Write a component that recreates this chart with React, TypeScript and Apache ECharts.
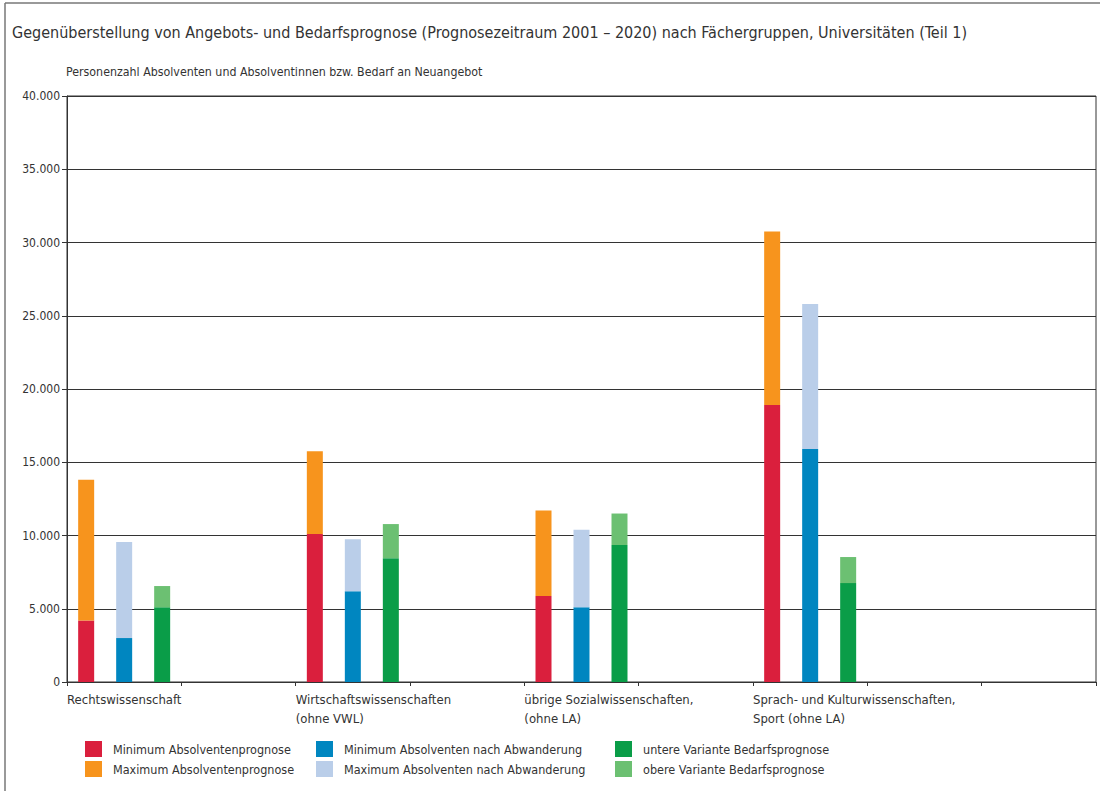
import React, { useEffect, useRef } from "react";
import * as echarts from "echarts";

const FONT = '"Liberation Sans Narrow", "DejaVu Sans Condensed", "Roboto Condensed", "Liberation Sans", sans-serif';

// Category slots on the x axis (9 slots, every second one used)
const slotCount = 9;
const usedSlots = [0, 2, 4, 6];
const groupLabels = [
  "Rechtswissenschaft",
  "Wirtschaftswissenschaften\n(ohne VWL)",
  "übrige Sozialwissenschaften,\n(ohne LA)",
  "Sprach- und Kulturwissenschaften,\nSport (ohne LA)",
];

// Values per group (persons)
const minAbsolventen = [4200, 10100, 5870, 18900];
const maxAbsolventen = [13800, 15750, 11700, 30750];
const minAbwanderung = [3000, 6200, 5100, 15900];
const maxAbwanderung = [9550, 9750, 10400, 25800];
const untereBedarf = [5100, 8450, 9350, 6750];
const obereBedarf = [6550, 10780, 11500, 8530];

const yTicks = [0, 5000, 10000, 15000, 20000, 25000, 30000, 35000, 40000];

const seriesNames = [
  "Minimum Absolventenprognose",
  "Maximum Absolventenprognose",
  "Minimum Absolventen nach Abwanderung",
  "Maximum Absolventen nach Abwanderung",
  "untere Variante Bedarfsprognose",
  "obere Variante Bedarfsprognose",
];
const colors = ["#DA1F3D", "#F7941D", "#0086C0", "#BACEE9", "#0A9D48", "#6CC072"];

function toSlots(vals: number[]): (number | string)[] {
  const out: (number | string)[] = new Array(slotCount).fill("-");
  usedSlots.forEach((s, i) => (out[s] = vals[i]));
  return out;
}
function diff(a: number[], b: number[]) {
  return a.map((v, i) => v - b[i]);
}
function fmt(v: number) {
  if (v === 0) return "0";
  const t = Math.floor(v / 1000);
  const r = v % 1000;
  return t + "." + String(r).padStart(3, "0");
}

export default function App() {
  const ref = useRef<HTMLDivElement>(null);
  useEffect(() => {
    if (!ref.current) return;
    const chart = echarts.init(ref.current, null, { renderer: "svg" });
    const slotNames = Array.from({ length: slotCount }, (_, i) => "s" + i);
    const tickNames = Array.from({ length: slotCount + 1 }, (_, i) => "t" + i);
    const tickLabels = tickNames.map((_, i) => {
      const k = usedSlots.indexOf(i);
      return k >= 0 ? groupLabels[k] : "";
    });
    const stacks = ["a", "a", "b", "b", "c", "c"];
    const dataSets = [
      toSlots(minAbsolventen),
      toSlots(diff(maxAbsolventen, minAbsolventen)),
      toSlots(minAbwanderung),
      toSlots(diff(maxAbwanderung, minAbwanderung)),
      toSlots(untereBedarf),
      toSlots(diff(obereBedarf, untereBedarf)),
    ];
    const legendBase = {
      orient: "vertical",
      top: 741,
      padding: 0,
      itemWidth: 17,
      itemHeight: 16,
      itemGap: 4,
      icon: "rect",
      selectedMode: false,
      textStyle: { fontFamily: FONT, fontSize: 12.5, color: "#333", padding: [0, 0, 0, 6] },
    };
    chart.setOption({
      animation: false,
      backgroundColor: "#fff",
      color: colors,
      title: [
        {
          text: "Gegenüberstellung von Angebots- und Bedarfsprognose (Prognosezeitraum 2001 – 2020) nach Fächergruppen, Universitäten (Teil 1)",
          left: 12,
          top: 24,
          padding: 0,
          textStyle: { fontFamily: FONT, fontSize: 16, fontWeight: "normal", color: "#333" },
        },
        {
          text: "Personenzahl Absolventen und Absolventinnen bzw. Bedarf an Neuangebot",
          left: 66,
          top: 66,
          padding: 0,
          textStyle: { fontFamily: FONT, fontSize: 12.3, fontWeight: "normal", color: "#333" },
        },
      ],
      legend: [
        { ...legendBase, left: 85, data: [seriesNames[0], seriesNames[1]] },
        { ...legendBase, left: 316, data: [seriesNames[2], seriesNames[3]] },
        { ...legendBase, left: 615, data: [seriesNames[4], seriesNames[5]] },
      ],
      grid: {
        left: 67,
        right: 4,
        top: 96,
        bottom: 109,
        show: true,
        borderColor: "#333",
        borderWidth: 1,
      },
      xAxis: [
        {
          type: "category",
          data: slotNames,
          position: "bottom",
          axisLine: { lineStyle: { color: "#333", width: 1 } },
          axisTick: { show: true, length: 4, lineStyle: { color: "#333" } },
          axisLabel: { show: false },
        },
        {
          type: "category",
          data: tickNames,
          boundaryGap: false,
          position: "bottom",
          axisLine: { show: false },
          axisTick: { show: false },
          axisLabel: {
            interval: 0,
            align: "left",
            verticalAlign: "top",
            margin: 8,
            lineHeight: 19,
            fontFamily: FONT,
            fontSize: 13,
            color: "#333",
            formatter: (_: string, idx: number) => tickLabels[idx],
          },
        },
      ],
      yAxis: {
        type: "value",
        min: 0,
        max: 40000,
        interval: 5000,
        axisLine: { show: true, lineStyle: { color: "#333", width: 1 } },
        axisTick: { show: true, length: 5, lineStyle: { color: "#333" } },
        splitLine: { lineStyle: { color: "#333", width: 1.2 } },
        axisLabel: {
          fontFamily: FONT,
          fontSize: 12,
          color: "#333",
          margin: 7,
          formatter: (v: number) => (yTicks.includes(v) ? fmt(v) : ""),
        },
      },
      series: seriesNames.map((name, i) => ({
        name,
        type: "bar",
        stack: stacks[i],
        xAxisIndex: 0,
        barWidth: 16,
        barGap: "137.5%",
        data: dataSets[i],
        itemStyle: { color: colors[i] },
      })),
      graphic: [
        { type: "line", shape: { x1: 5, y1: 3, x2: 1100, y2: 3 }, style: { stroke: "#777", lineWidth: 1.5 } },
        { type: "line", shape: { x1: 5, y1: 3, x2: 5, y2: 791 }, style: { stroke: "#777", lineWidth: 1.5 } },
      ],
    });
    return () => chart.dispose();
  }, []);
  return (
    <div
      ref={ref}
      style={{ position: "fixed", left: 0, top: 0, width: 1100, height: 791, background: "#fff" }}
    />
  );
}
